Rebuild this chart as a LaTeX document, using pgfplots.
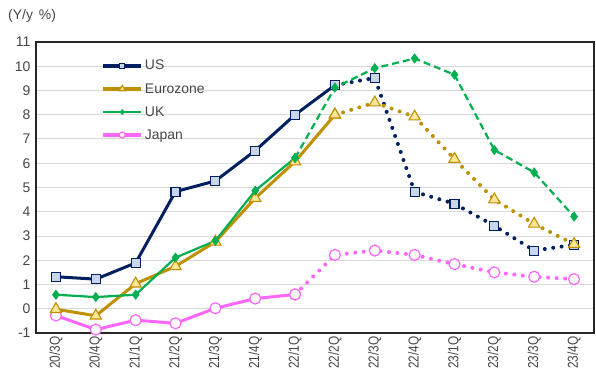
\documentclass[border=0pt]{standalone}
\usepackage{pgfplots}
\pgfplotsset{compat=1.18}
\usepackage{fontspec}
\setmainfont{Liberation Sans}
\newfontfamily\narrowfont[FakeStretch=0.82]{Liberation Sans}
\definecolor{usblue}{RGB}{0,32,96}
\definecolor{usfill}{RGB}{200,213,235}
\definecolor{ezgold}{RGB}{191,144,0}
\definecolor{ezfill}{RGB}{255,230,153}
\definecolor{ukgreen}{RGB}{0,176,80}
\definecolor{jppink}{RGB}{255,102,255}
\definecolor{gridgray}{RGB}{217,217,217}
\definecolor{axgray}{RGB}{64,64,64}
\definecolor{txtgray}{RGB}{70,70,70}
\pgfplotsset{
  usmark/.style={mark=square*, mark size=4.5bp, mark options={solid, fill=usfill, draw=usblue, line width=1.1bp}},
  ezmark/.style={mark=triangle*, mark size=6.5bp, mark options={solid, fill=ezfill, draw=ezgold, line width=1.1bp}},
  ukmark/.style={mark=diamond*, mark size=4.5bp, mark options={solid, fill=ukgreen, draw=ukgreen, line width=0.8bp}},
  jpmark/.style={mark=*, mark size=5.5bp, mark options={solid, fill=white, draw=jppink, line width=1.2bp}},
  dotline/.style={line width=4bp, line cap=round, dash pattern=on 0bp off 8.5bp},
}
\begin{document}
\begin{tikzpicture}
\begin{axis}[
  at={(0,0)}, anchor=south west,
  scale only axis, width=558bp, height=291bp,
  xmin=-0.5, xmax=13.5, ymin=-1, ymax=11,
  ytick={-1,0,...,11},
  xtick={0,...,13},
  xticklabels={20/3Q,20/4Q,21/1Q,21/2Q,21/3Q,21/4Q,22/1Q,22/2Q,22/3Q,22/4Q,23/1Q,23/2Q,23/3Q,23/4Q},
  x tick label style={rotate=90, anchor=east, font=\narrowfont\fontsize{14.5}{16}\selectfont, text=txtgray, xshift=0bp},
  y tick label style={font=\fontsize{14}{16}\selectfont, text=txtgray, xshift=-2bp},
  /pgf/number format/assume math mode=true,
  ymajorgrids, major grid style={gridgray, line width=1bp},
  major tick length=0pt,
  axis line style={black!85, line width=1.5bp},
  clip=false,
  legend style={at={(axis description cs:0.117,0.945)}, anchor=north west, draw=none, fill=none,
    font=\fontsize{14}{16}\selectfont, text=txtgray, row sep=8bp, inner sep=0pt},
  legend cell align=left,
  legend image code/.code={\draw[mark repeat=2,mark phase=2,#1, every mark/.append style={scale=0.55}] plot coordinates {(0bp,0bp) (19bp,0bp) (38bp,0bp)};},
]
\addlegendimage{usblue, line width=3.5bp, usmark}
\addlegendentry{US}
\addlegendimage{ezgold, line width=3.5bp, ezmark}
\addlegendentry{Eurozone}
\addlegendimage{ukgreen, line width=2.5bp, ukmark}
\addlegendentry{UK}
\addlegendimage{jppink, line width=3.5bp, jpmark}
\addlegendentry{Japan}

% Japan
\addplot[forget plot, jppink, line width=3bp, jpmark] coordinates {
(0,-0.28) (1,-0.86) (2,-0.47) (3,-0.60) (4,0.02) (5,0.42) (6,0.59)};
\addplot[forget plot, jppink, dotline, jpmark] coordinates {
(6,0.59) (7,2.22) (8,2.40) (9,2.22) (10,1.84) (11,1.50) (12,1.32) (13,1.22)};

% US
\addplot[forget plot, usblue, line width=3bp, usmark] coordinates {
(0,1.32) (1,1.22) (2,1.89) (3,4.83) (4,5.27) (5,6.52) (6,8.0) (7,9.22)};
\addplot[forget plot, usblue, dotline, usmark] coordinates {
(7,9.22) (8,9.52) (9,4.82) (10,4.33) (11,3.42) (12,2.40) (13,2.64)};

% Eurozone
\addplot[forget plot, ezgold, line width=3bp, ezmark] coordinates {
(0,-0.02) (1,-0.29) (2,1.03) (3,1.75) (4,2.76) (5,4.56) (6,6.07) (7,8.0)};
\addplot[forget plot, ezgold, dotline, ezmark] coordinates {
(7,8.0) (8,8.5) (9,7.92) (10,6.17) (11,4.50) (12,3.50) (13,2.66)};

% UK
\addplot[forget plot, ukgreen, line width=2.2bp, ukmark] coordinates {
(0,0.58) (1,0.48) (2,0.58) (3,2.11) (4,2.80) (5,4.87) (6,6.22)};
\addplot[forget plot, ukgreen, line width=2.2bp, dash pattern=on 7bp off 4bp, ukmark] coordinates {
(6,6.22) (7,9.12) (8,9.92) (9,10.32) (10,9.65) (11,6.55) (12,5.62) (13,3.80)};
\end{axis}
\node[anchor=west, font=\fontsize{14}{16}\selectfont, text=txtgray, inner sep=0pt] at (-28bp,317bp) {(Y/y\hspace{6bp}\%)};
\path[use as bounding box] (-36bp,-47bp) rectangle (560bp,333bp);
\end{tikzpicture}
\end{document}
